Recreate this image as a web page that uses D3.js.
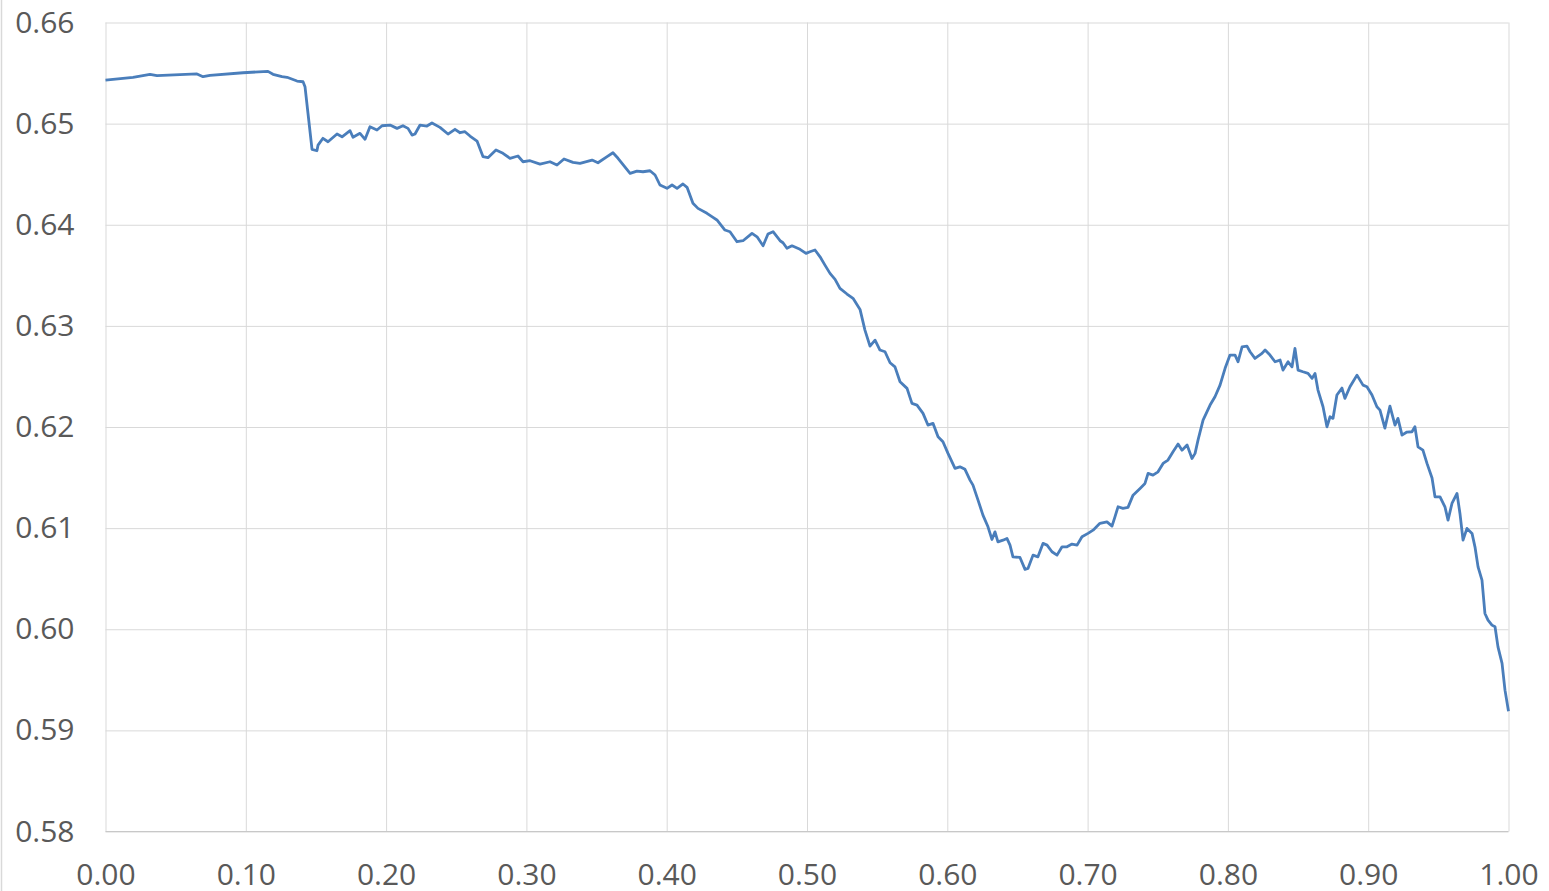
<!DOCTYPE html>
<html>
<head>
<meta charset="utf-8">
<script src="https://cdn.jsdelivr.net/npm/d3@7"></script>
<style>
  body { margin: 0; background: #fff; }
  svg { display: block; }
</style>
</head>
<body>
<div id="chart"></div>
<script>
// tick labels
var xTicks = [0, 0.1, 0.2, 0.3, 0.4, 0.5, 0.6, 0.7, 0.8, 0.9, 1.0];
var yTicks = [0.58, 0.59, 0.60, 0.61, 0.62, 0.63, 0.64, 0.65, 0.66];

// series
var xVals = [0.000, 0.0196, 0.0317, 0.0367, 0.0652, 0.0695, 0.0745, 0.0980, 0.1158, 0.1194,
  0.1258, 0.1294, 0.1365, 0.1408, 0.1422, 0.1443, 0.1472, 0.1507, 0.1515, 0.1550,
  0.1586, 0.1650, 0.1686, 0.1743, 0.1764, 0.1814, 0.1850, 0.1885, 0.1935, 0.1971,
  0.2028, 0.2078, 0.2120, 0.2156, 0.2185, 0.2206, 0.2242, 0.2291, 0.2327, 0.2384,
  0.2441, 0.2491, 0.2527, 0.2562, 0.2598, 0.2648, 0.2691, 0.2726, 0.2783, 0.2833,
  0.2883, 0.2940, 0.2976, 0.3026, 0.3097, 0.3168, 0.3218, 0.3268, 0.3332, 0.3382,
  0.3468, 0.3510, 0.3575, 0.3617, 0.3653, 0.3739, 0.3788, 0.3831, 0.3881, 0.3917,
  0.3952, 0.4002, 0.4038, 0.4074, 0.4116, 0.4145, 0.4187, 0.4223, 0.4287, 0.4330,
  0.4358, 0.4415, 0.4451, 0.4501, 0.4544, 0.4608, 0.4644, 0.4687, 0.4722, 0.4758,
  0.4808, 0.4829, 0.4857, 0.4893, 0.4950, 0.4993, 0.5021, 0.5057, 0.5093, 0.5128,
  0.5164, 0.5200, 0.5235, 0.5285, 0.5328, 0.5378, 0.5413, 0.5449, 0.5485, 0.5520,
  0.5556, 0.5592, 0.5627, 0.5663, 0.5713, 0.5748, 0.5784, 0.5827, 0.5862, 0.5898,
  0.5934, 0.5969, 0.6005, 0.6055, 0.6090, 0.6126, 0.6162, 0.6183, 0.6219, 0.6254,
  0.6290, 0.6318, 0.6340, 0.6361, 0.6397, 0.6425, 0.6447, 0.6468, 0.6518, 0.6554,
  0.6575, 0.6611, 0.6646, 0.6682, 0.6711, 0.6746, 0.6782, 0.6818, 0.6853, 0.6889,
  0.6925, 0.6960, 0.7003, 0.7039, 0.7088, 0.7138, 0.7174, 0.7195, 0.7217, 0.7252,
  0.7288, 0.7324, 0.7374, 0.7409, 0.7431, 0.7466, 0.7502, 0.7538, 0.7573, 0.7609,
  0.7645, 0.7673, 0.7709, 0.7744, 0.7766, 0.7787, 0.7823, 0.7873, 0.7908, 0.7944,
  0.7980, 0.8015, 0.8051, 0.8072, 0.8101, 0.8136, 0.8158, 0.8193, 0.8243, 0.8265,
  0.8300, 0.8336, 0.8372, 0.8393, 0.8429, 0.8457, 0.8478, 0.8500, 0.8535, 0.8571,
  0.8600, 0.8621, 0.8642, 0.8678, 0.8706, 0.8728, 0.8749, 0.8777, 0.8813, 0.8834,
  0.8870, 0.8884, 0.8920, 0.8963, 0.8991, 0.9027, 0.9062, 0.9084, 0.9119, 0.9155,
  0.9191, 0.9212, 0.9241, 0.9276, 0.9312, 0.9333, 0.9355, 0.9390, 0.9419, 0.9455,
  0.9476, 0.9512, 0.9547, 0.9569, 0.9597, 0.9633, 0.9654, 0.9676, 0.9704, 0.9740,
  0.9761, 0.9783, 0.9811, 0.9832, 0.9854, 0.9882, 0.9904, 0.9925, 0.9954, 0.9975,
  1.000];

var yVals = [0.65431, 0.65458, 0.65488, 0.65474, 0.65491, 0.65464, 0.65478, 0.65503, 0.65517, 0.65488,
  0.65464, 0.65458, 0.65421, 0.65414, 0.65365, 0.65105, 0.64746, 0.64732, 0.64788, 0.64855,
  0.64821, 0.64897, 0.64870, 0.64930, 0.64865, 0.64904, 0.64845, 0.64969, 0.64937, 0.64979,
  0.64986, 0.64953, 0.64979, 0.64953, 0.64887, 0.64897, 0.64986, 0.64976, 0.65006, 0.64963,
  0.64897, 0.64944, 0.64910, 0.64920, 0.64877, 0.64828, 0.64673, 0.64663, 0.64739, 0.64706,
  0.64657, 0.64680, 0.64623, 0.64633, 0.64600, 0.64623, 0.64591, 0.64650, 0.64617, 0.64607,
  0.64640, 0.64613, 0.64673, 0.64712, 0.64657, 0.64508, 0.64531, 0.64524, 0.64534, 0.64492,
  0.64393, 0.64360, 0.64393, 0.64360, 0.64403, 0.64370, 0.64212, 0.64162, 0.64113, 0.64073,
  0.64047, 0.63948, 0.63931, 0.63832, 0.63842, 0.63915, 0.63881, 0.63792, 0.63908, 0.63931,
  0.63842, 0.63822, 0.63767, 0.63792, 0.63757, 0.63717, 0.63733, 0.63750, 0.63683, 0.63601,
  0.63519, 0.63460, 0.63371, 0.63315, 0.63272, 0.63163, 0.62958, 0.62800, 0.62859, 0.62761,
  0.62744, 0.62635, 0.62595, 0.62447, 0.62382, 0.62233, 0.62217, 0.62135, 0.62019, 0.62036,
  0.61903, 0.61854, 0.61739, 0.61591, 0.61606, 0.61581, 0.61475, 0.61425, 0.61277, 0.61129,
  0.61013, 0.60888, 0.60963, 0.60864, 0.60881, 0.60898, 0.60832, 0.60716, 0.60710, 0.60592,
  0.60601, 0.60733, 0.60716, 0.60849, 0.60832, 0.60766, 0.60733, 0.60815, 0.60815, 0.60842,
  0.60832, 0.60914, 0.60948, 0.60980, 0.61047, 0.61062, 0.61020, 0.61112, 0.61211, 0.61195,
  0.61205, 0.61326, 0.61393, 0.61442, 0.61541, 0.61524, 0.61557, 0.61640, 0.61673, 0.61755,
  0.61831, 0.61771, 0.61821, 0.61689, 0.61739, 0.61870, 0.62068, 0.62217, 0.62299, 0.62414,
  0.62580, 0.62711, 0.62711, 0.62645, 0.62793, 0.62800, 0.62744, 0.62678, 0.62728, 0.62761,
  0.62711, 0.62645, 0.62662, 0.62563, 0.62645, 0.62595, 0.62777, 0.62563, 0.62546, 0.62530,
  0.62481, 0.62530, 0.62365, 0.62200, 0.62002, 0.62101, 0.62085, 0.62316, 0.62385, 0.62283,
  0.62398, 0.62431, 0.62513, 0.62414, 0.62398, 0.62316, 0.62200, 0.62167, 0.61989, 0.62207,
  0.62019, 0.62085, 0.61920, 0.61950, 0.61953, 0.62002, 0.61804, 0.61771, 0.61640, 0.61495,
  0.61310, 0.61310, 0.61211, 0.61079, 0.61244, 0.61343, 0.61145, 0.60881, 0.60997, 0.60948,
  0.60815, 0.60617, 0.60486, 0.60156, 0.60090, 0.60041, 0.60024, 0.59826, 0.59662, 0.59398,
  0.59190];

var width = 1549, height = 891;
var margin = { top: 22.5, right: 40.5, bottom: 59.5, left: 105.5 };

var svg = d3.select('#chart')
  .append('svg')
  .attr('width', width)
  .attr('height', height);

var x = d3.scaleLinear()
  .domain([0, 1])
  .range([margin.left, width - margin.right]);

var y = d3.scaleLinear()
  .domain([0.58, 0.66])
  .range([height - margin.bottom, margin.top]);

var plotW = width - margin.left - margin.right;
var plotH = height - margin.top - margin.bottom;

// outer frame edge on the left
svg.append('line')
  .attr('x1', 1.5).attr('x2', 1.5)
  .attr('y1', 0).attr('y2', height)
  .attr('stroke', '#d9d9d9')
  .attr('stroke-width', 1.5);

// y axis + horizontal grid
var yAxis = svg.append('g')
  .attr('transform', 'translate(' + margin.left + ',0)')
  .call(d3.axisLeft(y)
    .tickValues(yTicks)
    .tickSize(-plotW)
    .tickPadding(31)
    .tickFormat(d3.format('.2f')));

// x axis + vertical grid
var xAxis = svg.append('g')
  .attr('transform', 'translate(0,' + (height - margin.bottom) + ')')
  .call(d3.axisBottom(x)
    .tickValues(xTicks)
    .tickSize(-plotH)
    .tickPadding(32)
    .tickFormat(d3.format('.2f')));

[yAxis, xAxis].forEach(function(ax) {
  ax.select('.domain').remove();
  ax.selectAll('.tick line')
    .attr('stroke', '#d9d9d9')
    .attr('stroke-width', 1);
  ax.selectAll('.tick text')
    .attr('fill', '#595959')
    .style('font-family', '"Open Sans", sans-serif')
    .style('font-size', '30px');
});

// bottom axis line a bit darker than grid
svg.append('line')
  .attr('x1', x(0)).attr('x2', x(1))
  .attr('y1', y(0.58)).attr('y2', y(0.58))
  .attr('stroke', '#c8c8c8');

var line = d3.line()
  .x(function(d, i) { return x(xVals[i]); })
  .y(function(d) { return y(d); });

svg.append('path')
  .datum(yVals)
  .attr('fill', 'none')
  .attr('stroke', '#4a7ebb')
  .attr('stroke-width', 2.8)
  .attr('stroke-linejoin', 'round')
  .attr('d', line);
</script>
</body>
</html>
